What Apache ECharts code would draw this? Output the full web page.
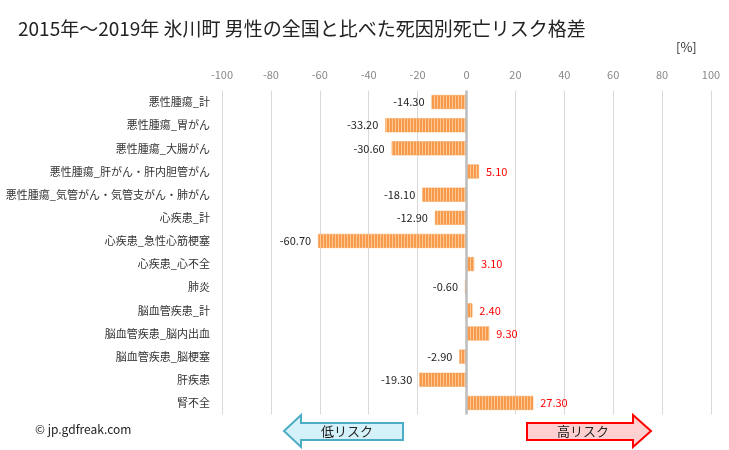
<!DOCTYPE html>
<html><head><meta charset="utf-8">
<script src="https://cdn.jsdelivr.net/npm/echarts@6/dist/echarts.min.js"></script>
<style>html,body{margin:0;padding:0;background:#fff}#c{width:729px;height:450px}</style>
</head><body><div id="c"></div>
<script>
const categories = ["悪性腫瘍_計","悪性腫瘍_胃がん","悪性腫瘍_大腸がん","悪性腫瘍_肝がん・肝内胆管がん","悪性腫瘍_気管がん・気管支がん・肺がん","心疾患_計","心疾患_急性心筋梗塞","心疾患_心不全","肺炎","脳血管疾患_計","脳血管疾患_脳内出血","脳血管疾患_脳梗塞","肝疾患","腎不全"];
const values = [-14.30,-33.20,-30.60,5.10,-18.10,-12.90,-60.70,3.10,-0.60,2.40,9.30,-2.90,-19.30,27.30];
const xTicks = [-100,-80,-60,-40,-20,0,20,40,60,80,100];

const pc = document.createElement('canvas');
pc.width = 3; pc.height = 4;
const g = pc.getContext('2d');
g.fillStyle = '#f79a4b'; g.fillRect(0,0,3,4);
g.fillStyle = '#fcc893'; g.fillRect(2,0,1,4);

const font = '"Noto Sans CJK JP", "Noto Sans", sans-serif';
const chart = echarts.init(document.getElementById('c'), null, {renderer:'canvas'});
chart.setOption({
  animation:false,
  textStyle:{fontFamily:font},
  title:{text:'2015年～2019年 氷川町 男性の全国と比べた死因別死亡リスク格差', left:13, top:14,
    textStyle:{fontSize:19, fontWeight:'normal', color:'#222', fontFamily:font}},
  grid:{left:222, right:18, top:90.5, bottom:35.5, containLabel:false, outerBoundsMode:'none'},
  xAxis:{type:'value', position:'top', min:xTicks[0], max:xTicks[xTicks.length-1], interval:20,
    axisLine:{show:false}, axisTick:{show:false},
    axisLabel:{color:'#888', fontSize:11, margin:10, fontFamily:font},
    splitLine:{lineStyle:{color:'#d9d9d9', width:1}}},
  yAxis:{type:'category', data:categories, inverse:true,
    axisLine:{show:false, onZero:false}, axisTick:{show:false},
    axisLabel:{color:'#333', fontSize:11, margin:12, fontFamily:font}},
  series:[{type:'bar', barWidth:14, z:1,
    data: values.map(v => ({value:v, label:{position: v<0?'left':'right', color: v<0?'#222':'#ff0000'}})),
    itemStyle:{color:{image:pc, repeat:'repeat'}, borderColor:'#f79a4b', borderWidth:0.5},
    label:{show:true, fontSize:11, distance:7, fontFamily:font, formatter: p => p.value.toFixed(2)},
    markLine:{silent:true, symbol:'none', label:{show:false},
      lineStyle:{color:'#bdbdbd', width:2.5, type:'solid'}, data:[{xAxis:0}]}
  }],
  graphic:[
    {type:'text', left:676, top:41, style:{text:'[%]', fill:'#333', font:'13px '+font}},
    {type:'text', left:35, top:423, style:{text:'© jp.gdfreak.com', fill:'#222', font:'12px '+font}},
    {type:'polygon', shape:{points:[[284,431],[301,415],[301,423],[403,423],[403,440],[301,440],[301,447]]},
      style:{fill:'#d5f1fa', stroke:'#4bacc6', lineWidth:2}},
    {type:'text', x:347, y:431, style:{text:'低リスク', font:'13px '+font, fill:'#222', align:'center', verticalAlign:'middle'}},
    {type:'polygon', shape:{points:[[651,431],[633,415],[633,423],[527,423],[527,440],[633,440],[633,447]]},
      style:{fill:'#ffd0d0', stroke:'#ff0000', lineWidth:2}},
    {type:'text', x:583, y:431, style:{text:'高リスク', font:'13px '+font, fill:'#222', align:'center', verticalAlign:'middle'}}
  ]
});
</script></body></html>
